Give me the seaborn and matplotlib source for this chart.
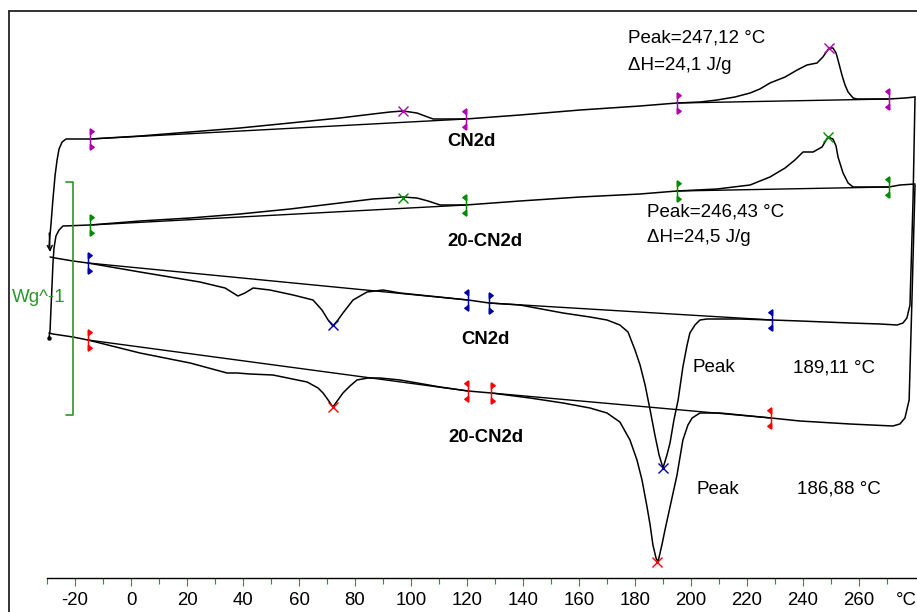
import numpy as np
import pandas as pd
import matplotlib
matplotlib.use("Agg")
import matplotlib.pyplot as plt
from matplotlib.path import Path
from matplotlib.lines import Line2D
from matplotlib.ticker import FixedLocator
import seaborn as sns

sns.set_theme(style="white")
plt.rcParams["font.family"] = ["Liberation Sans", "DejaVu Sans"]
plt.rcParams["text.color"] = "black"
plt.rcParams["xtick.color"] = "black"

# ---------------- data (temperature in °C, heat flow in mW, exo down) ----------------
# CN2d heating
T_cn_heat = [-29.3, -28.6, -27.9, -27.1, -26.4, -25.7, -24.6, -23.2, -14.6, 3.2, 21.1, 38.9, 56.8,
             74.6, 86.4, 92.5, 97.1, 102.1, 105.0, 107.9, 119.6, 138.9, 160.4, 181.8, 195.0, 203.2,
             209.3, 215.7, 221.1, 224.6, 228.2, 233.6, 237.9, 241.4, 245.0, 247.1, 249.3, 250.7,
             251.8, 252.5, 253.9, 255.0, 256.1, 257.9, 259.3, 267.5, 270.7, 276.4, 280.0]
hf_cn_heat = [33.1, 35.3, 37.8, 40.3, 41.8, 42.9, 43.6, 43.9, 43.9, 44.2, 44.6, 45.0, 45.5,
              46.0, 46.4, 46.6, 46.7, 46.5, 46.2, 45.9, 45.9, 46.3, 46.8, 47.2, 47.5, 47.6,
              47.8, 48.1, 48.5, 48.9, 49.5, 50.1, 50.8, 51.3, 51.5, 52.1, 53.0, 53.0,
              52.5, 51.8, 50.3, 49.3, 48.6, 48.0, 47.9, 47.9, 47.9, 48.0, 48.1]

# 20-CN2d heating
T_20_heat = [-29.3, -28.9, -28.6, -28.2, -27.9, -27.5, -26.8, -25.7, -24.3, -14.6, 3.2, 21.1, 38.9,
             56.8, 74.6, 86.4, 92.5, 97.1, 102.1, 106.1, 110.4, 119.6, 138.9, 160.4, 181.8, 195.0,
             209.3, 221.1, 228.2, 233.6, 237.1, 240.0, 243.6, 246.8, 248.9, 250.7, 251.8, 252.5,
             254.3, 256.1, 257.9, 263.9, 270.7, 274.6, 280.0]
hf_20_heat = [24.0, 24.8, 26.8, 29.3, 31.3, 33.0, 34.2, 34.8, 35.2, 35.3, 35.7, 36.0, 36.4,
              36.9, 37.5, 37.9, 38.0, 38.1, 38.0, 37.7, 37.3, 37.3, 37.7, 38.1, 38.4, 38.7,
              38.9, 39.3, 40.1, 41.0, 41.8, 42.6, 42.6, 43.1, 44.1, 43.9, 43.2, 42.1,
              40.5, 39.5, 39.1, 39.1, 39.1, 39.3, 39.4]

# CN2d cooling
T_cn_cool = [-28.9, -27.1, -20.7, -15.4, 3.2, 24.6, 33.6, 38.2, 40.7, 43.6, 49.6, 57.9, 65.0,
             68.2, 70.4, 72.1, 73.9, 75.7, 79.3, 84.3, 90.0, 96.1, 120.4, 127.9, 138.9, 154.3,
             163.9, 170.0, 174.6, 177.5, 180.0, 181.8, 183.6, 185.4, 187.1, 188.6, 190.0, 191.4,
             192.5, 193.9, 195.4, 197.1, 198.6, 199.6, 201.4, 203.2, 205.7, 217.5, 228.9, 238.9,
             256.8, 267.5, 273.6, 275.7, 277.1, 278.2, 279.3, 280.0]
hf_cn_cool = [32.1, 32.0, 31.7, 31.5, 30.6, 29.6, 29.0, 28.2, 28.5, 29.0, 28.8, 28.3, 27.8,
              26.8, 25.8, 25.2, 25.8, 26.5, 27.8, 28.6, 28.8, 28.5, 27.8, 27.5, 27.3, 26.5,
              26.1, 25.8, 25.3, 24.6, 22.8, 21.3, 19.3, 16.8, 14.3, 12.3, 11.0, 12.3,
              13.5, 15.8, 17.8, 21.1, 23.3, 24.5, 25.3, 25.8, 25.9, 25.9, 25.8, 25.7,
              25.5, 25.4, 25.3, 25.5, 26.0, 27.3, 37.8, 48.1]

# 20-CN2d cooling
T_20_cool = [-29.3, -27.9, -20.7, -15.4, 3.2, 21.1, 34.3, 37.9, 42.5, 50.7, 62.9, 66.8, 68.6,
             70.4, 72.1, 73.9, 75.7, 78.2, 80.7, 84.6, 88.9, 96.1, 110.4, 120.4, 128.6, 142.5,
             154.3, 163.9, 170.0, 174.6, 178.2, 180.7, 182.5, 184.3, 185.4, 186.4, 187.5, 188.2,
             189.6, 190.7, 192.5, 195.0, 197.1, 198.9, 200.4, 203.2, 210.4, 228.6, 238.9, 256.8,
             272.1, 274.6, 276.4, 277.9, 278.9, 280.0]
hf_20_cool = [24.5, 24.4, 24.1, 23.8, 22.5, 21.5, 20.5, 20.5, 20.4, 20.3, 19.6, 19.0, 18.5,
              17.8, 17.1, 17.8, 18.5, 19.2, 19.8, 20.0, 20.0, 19.8, 19.1, 18.7, 18.5, 18.0,
              17.5, 17.0, 16.5, 15.6, 13.8, 11.8, 9.8, 7.1, 5.3, 3.3, 2.0, 1.6,
              3.3, 4.8, 7.1, 10.3, 13.8, 15.3, 16.0, 16.5, 16.5, 16.0, 15.7, 15.4,
              15.2, 15.4, 16.0, 17.8, 27.8, 39.3]

# integration limits (temperature, heat flow, direction of flags)
lim_colors = ["#b000b0", "#008c00", "#0000a8", "#ff0000"]
lim_T = [[-14.6, 119.6, 195.0, 270.7],
         [-14.6, 119.6, 195.0, 270.7],
         [-15.4, 120.4, 127.9, 228.9],
         [-15.4, 120.4, 128.6, 228.6]]
lim_hf = [[43.9, 45.9, 47.5, 47.9],
          [35.3, 37.3, 38.7, 39.1],
          [31.5, 27.8, 27.5, 25.8],
          [23.8, 18.7, 18.5, 16.0]]
lim_dir = [1, -1, 1, -1]

# evaluated peaks
peak_T = [[97.1, 249.3], [97.1, 248.9], [72.1, 190.0], [72.1, 187.9]]
peak_hf = [[46.7, 53.0], [38.0, 44.1], [25.3, 11.0], [17.1, 1.6]]

x_ticks = list(range(-20, 261, 20))
x_minor = [t for t in range(-30, 271, 10) if t % 20 != 0]
x_labels = [str(t) for t in x_ticks] + ["°C"]
unit_pos = 276.8

sample_mass_mg = 23.3     # scale bar: 1 W/g
scale_bar_WpG = 1.0

# ---------------- figure ----------------
fig = plt.figure(figsize=(9.17, 6.12), dpi=100)
ax = fig.add_axes([40 / 917, 34 / 612, 877 / 917, 578 / 612])
ax.set_xlim(-32.5, 280.71)
ax.set_ylim(0, 57.8)

curves = [("CN2d heating", T_cn_heat, hf_cn_heat),
          ("20-CN2d heating", T_20_heat, hf_20_heat),
          ("CN2d cooling", T_cn_cool, hf_cn_cool),
          ("20-CN2d cooling", T_20_cool, hf_20_cool)]
df = pd.concat([pd.DataFrame({"T": t, "hf": h, "run": n}) for n, t, h in curves],
               ignore_index=True)
sns.lineplot(data=df, x="T", y="hf", units="run", estimator=None, sort=False,
             color="black", lw=1.1, ax=ax, legend=False)

# baselines between pairs of limits
rows = []
for i in range(4):
    for k in (0, 2):
        name = f"b{i}{k}"
        rows.append(pd.DataFrame({"T": lim_T[i][k:k + 2], "hf": lim_hf[i][k:k + 2], "run": name}))
dfb = pd.concat(rows, ignore_index=True)
sns.lineplot(data=dfb, x="T", y="hf", units="run", estimator=None, sort=False,
             color="black", lw=1.0, ax=ax, legend=False)


def limit_marker(d):
    verts = [(0, -10), (0, 10),
             (0, 10), (3.5 * d, 7.5), (0, 5), (0, 10),
             (0, -10), (3.5 * d, -7.5), (0, -5), (0, -10)]
    codes = [Path.MOVETO, Path.LINETO,
             Path.MOVETO, Path.LINETO, Path.LINETO, Path.CLOSEPOLY,
             Path.MOVETO, Path.LINETO, Path.LINETO, Path.CLOSEPOLY]
    return Path(verts, codes)


for i in range(4):
    c = lim_colors[i]
    for t, h, d in zip(lim_T[i], lim_hf[i], lim_dir):
        ax.plot([t], [h], ls="none", marker=limit_marker(d), ms=15,
                mfc=c, mec=c, mew=1.1)
    ax.plot(peak_T[i], peak_hf[i], ls="none", marker="x", ms=7.5, mew=1.0, color=c)

# arrow and end dot at the left
ax.annotate("", xy=(-28.9, 32.6), xytext=(-29.2, 34.5),
            arrowprops=dict(arrowstyle="->", lw=1.0, color="black",
                            shrinkA=0, shrinkB=0, mutation_scale=9))
ax.plot([T_20_heat[0]], [hf_20_heat[0]], "o", ms=2.2, color="black")

# texts
fs = 13.5
ax.text(177.5, 54.0, "Peak=247,12 °C", fontsize=fs, va="center", ha="left")
ax.text(177.5, 51.2, "ΔH=24,1 J/g", fontsize=fs, va="center", ha="left")
ax.text(184.3, 36.6, "Peak=246,43 °C", fontsize=fs, va="center", ha="left")
ax.text(184.3, 34.0, "ΔH=24,5 J/g", fontsize=fs, va="center", ha="left")
ax.text(200.4, 21.0, "Peak", fontsize=fs, va="center", ha="left")
ax.text(236.4, 21.0, "189,11 °C", fontsize=fs, va="center", ha="left")
ax.text(202.1, 8.9, "Peak", fontsize=fs, va="center", ha="left")
ax.text(237.9, 8.9, "186,88 °C", fontsize=fs, va="center", ha="left")
fb = 13.3
ax.text(112.9, 43.6, "CN2d", fontsize=fb, fontweight="bold", va="center", ha="left")
ax.text(112.9, 33.6, "20-CN2d", fontsize=fb, fontweight="bold", va="center", ha="left")
ax.text(117.9, 23.8, "CN2d", fontsize=fb, fontweight="bold", va="center", ha="left")
ax.text(113.2, 14.1, "20-CN2d", fontsize=fb, fontweight="bold", va="center", ha="left")

# scale bar
green = "#2a962a"
bar_len = scale_bar_WpG * sample_mass_mg
bx, by = -20.7, 16.3
ax.plot([bx - 2.5, bx, bx, bx - 2.5], [by, by, by + bar_len, by + bar_len],
        color=green, lw=1.2, clip_on=False)
ax.text(-42.6, 28.1, "Wg^-1", color=green, fontsize=fs, va="center", ha="left", clip_on=False)

# x axis
for s in ("left", "right", "top"):
    ax.spines[s].set_visible(False)
ax.spines["bottom"].set_color("black")
ax.spines["bottom"].set_linewidth(1.0)
ax.spines["bottom"].set_bounds(-30, 281)
ax.set_yticks([])
ax.xaxis.set_major_locator(FixedLocator(x_ticks + [unit_pos]))
ax.set_xticklabels(x_labels)
ax.xaxis.set_minor_locator(FixedLocator(x_minor))
ax.tick_params(axis="x", which="major", bottom=True, direction="out", length=5.8,
               width=0.8, color=green, labelsize=13.4, pad=4.5, labelcolor="black")
ax.tick_params(axis="x", which="minor", bottom=True, direction="out", length=4.5,
               width=0.8, color=green)
ax.xaxis.get_major_ticks()[-1].tick1line.set_visible(False)
ax.set_xlabel("")
ax.set_ylabel("")

# outer frame
fig.add_artist(Line2D([8.5 / 917, 8.5 / 917], [0, 1 - 10.5 / 612], transform=fig.transFigure,
                      color="#222222", lw=1.3))
fig.add_artist(Line2D([8.5 / 917, 1], [1 - 10.5 / 612, 1 - 10.5 / 612],
                      transform=fig.transFigure, color="#222222", lw=1.3))

fig.savefig("out.png", dpi=100)
